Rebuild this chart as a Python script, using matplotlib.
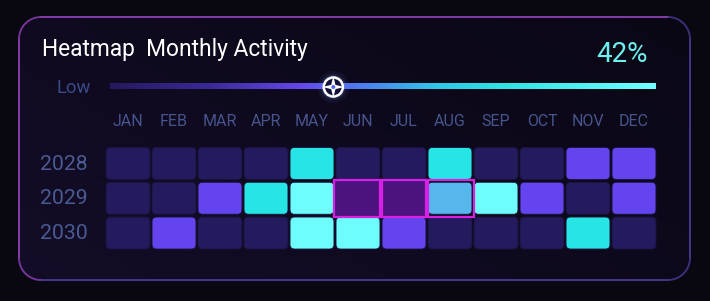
import numpy as np
import matplotlib.pyplot as plt
from matplotlib.patches import FancyBboxPatch, Rectangle, Circle, Polygon
from matplotlib.colors import LinearSegmentedColormap
from matplotlib.collections import LineCollection

plt.rcParams['font.family'] = ['Roboto', 'DejaVu Sans']

# ---------------- data ----------------
title = "Heatmap  Monthly Activity"
percent_label = "42%"
slider_value = 0.42
months = ["JAN", "FEB", "MAR", "APR", "MAY", "JUN", "JUL", "AUG", "SEP", "OCT", "NOV", "DEC"]
years = ["2028", "2029", "2030"]
# activity level per month (0 = low ... 3 = high)
levels_2028 = [0, 0, 0, 0, 2, 0, 0, 2, 0, 0, 1, 1]
levels_2029 = [0, 0, 1, 2, 3, 0, 0, 2, 3, 1, 0, 1]
levels_2030 = [0, 1, 0, 0, 3, 3, 1, 0, 0, 0, 2, 0]
selected_year = "2029"
selected_months = ["JUN", "JUL", "AUG"]

level_colors = {0: '#241a5e', 1: '#6344ee', 2: '#27e5e5', 3: '#6dfdfd'}
selected_colors = {0: '#4c137e', 2: '#57b6eb'}

levels = np.array([levels_2028, levels_2029, levels_2030])

# ---------------- figure / background ----------------
W, H = 710, 301
fig = plt.figure(figsize=(W / 100, H / 100), dpi=100, facecolor='#09070f')
bg = fig.add_axes([0, 0, 1, 1])
bg.set_xlim(0, W)
bg.set_ylim(H, 0)
bg.axis('off')

# card
cx0, cy0, cx1, cy1, rad = 19, 17, 690, 280, 22
card = FancyBboxPatch((cx0, cy0), cx1 - cx0, cy1 - cy0,
                      boxstyle=f"round,pad=0,rounding_size={rad}",
                      facecolor='none', edgecolor='none')
bg.add_patch(card)
gx, gy = np.meshgrid(np.linspace(0, 1, 200), np.linspace(0, 1, 100))
shade = 0.6 * (1 - gx) + 0.4 * gy
card_cmap = LinearSegmentedColormap.from_list('card', ['#0a0715', '#130d27'])
im = bg.imshow(shade, extent=[cx0, cx1, cy1, cy0], cmap=card_cmap,
               aspect='auto', zorder=1)
im.set_clip_path(card)

# card border with a purple gradient
def rounded_outline(x0, y0, x1, y1, r, n=40):
    pts = []
    corners = [(x1 - r, y0 + r, -90, 0), (x1 - r, y1 - r, 0, 90),
               (x0 + r, y1 - r, 90, 180), (x0 + r, y0 + r, 180, 270)]
    for ccx, ccy, a0, a1 in corners:
        a = np.radians(np.linspace(a0, a1, n))
        pts.append(np.column_stack([ccx + r * np.cos(a), ccy + r * np.sin(a)]))
    pts = np.vstack(pts + [pts[0][:1]])
    return pts

outline = rounded_outline(cx0, cy0, cx1, cy1, rad)
segs = np.stack([outline[:-1], outline[1:]], axis=1)
border_cmap = LinearSegmentedColormap.from_list('border', ['#9040b8', '#5a3aa0', '#4a3a94'])
lc = LineCollection(segs, cmap=border_cmap, linewidths=1.3, zorder=3)
lc.set_array((segs[:, 0, 0] - cx0) / (cx1 - cx0))
bg.add_collection(lc)

# ---------------- header ----------------
bg.text(42, 56, title, color='white', fontsize=16.4, va='baseline', ha='left', zorder=5)
bg.text(648, 62, percent_label, color='#6cf0f0', fontsize=20, va='baseline', ha='right', zorder=5)
bg.text(57, 93, "Low", color='#3b4a88', fontsize=13.3, va='baseline', ha='left', zorder=5)

# slider track
sx0, sx1, sy = 110, 656, 86.5
slider_cmap = LinearSegmentedColormap.from_list(
    'slider', [(0, '#26195e'), (0.18, '#3a2a96'), (0.35, '#6548ee'),
               (0.45, '#4f78f2'), (0.6, '#2fc8e6'), (0.72, '#2ee2e2'), (1, '#70ffff')])
bg.imshow(np.linspace(0, 1, 400)[None, :], extent=[sx0, sx1, sy + 2.8, sy - 2.8],
          cmap=slider_cmap, aspect='auto', zorder=4)

# knob
kx = sx0 + slider_value * (sx1 - sx0) - 6
for r, a in [(16, 0.06), (13, 0.1), (11.5, 0.15)]:
    bg.add_patch(Circle((kx, sy + 0.5), r, color='#7a9cff', alpha=a, lw=0, zorder=5))
bg.add_patch(Circle((kx, sy + 0.5), 9.5, facecolor='#14123a', edgecolor='white', lw=1.8, zorder=6))
ang = np.radians(np.arange(0, 360, 45) - 90)
rr = np.where(np.arange(8) % 2 == 0, 11, 3.0)
star = np.column_stack([kx + rr * np.cos(ang), sy + 0.5 + rr * np.sin(ang)])
bg.add_patch(Polygon(star, closed=True, facecolor='white', edgecolor='none', zorder=7))
bg.add_patch(Circle((kx, sy + 0.5), 2.0, color='#4a6cf0', lw=0, zorder=8))

# ---------------- heatmap ----------------
hx0, hx1, hy0, hy1 = 105, 657, 146.1, 250.4
ax = fig.add_axes([hx0 / W, 1 - hy1 / H, (hx1 - hx0) / W, (hy1 - hy0) / H])
ax.set_xlim(-0.5, len(months) - 0.5)
ax.set_ylim(len(years) - 0.5, -0.5)
ax.axis('off')
ax.patch.set_alpha(0)

px_x = (hx1 - hx0) / len(months)
px_y = (hy1 - hy0) / len(years)
cw, ch = 0.955, 0.92
rs = 4.5 / px_x
sel_row = years.index(selected_year)
sel_cols = [months.index(m) for m in selected_months]

for i in range(len(years)):
    for j in range(len(months)):
        lv = levels[i, j]
        selected = (i == sel_row and j in sel_cols)
        color = level_colors[lv]
        if selected and lv == 0:
            ax.add_patch(Rectangle((j - 0.5, i - 0.5), 1, 1, facecolor=selected_colors[0],
                                   edgecolor='none', zorder=2))
            continue
        if selected:
            color = selected_colors.get(lv, color)
        ax.add_patch(FancyBboxPatch((j - cw / 2, i - ch / 2), cw, ch,
                                    boxstyle=f"round,pad=0,rounding_size={rs}",
                                    mutation_aspect=px_x / px_y,
                                    facecolor=color, edgecolor='#1a1440', lw=0.6, zorder=2))

for j in sel_cols:
    ax.add_patch(Rectangle((j - 0.52, sel_row - 0.53), 1.04, 1.06, facecolor='none',
                           edgecolor='#d820e4', lw=1.6, zorder=4))

for j, m in enumerate(months):
    ax.text(j, -1.08, m, color='#46558e', fontsize=11.5, ha='center', va='baseline')
for i, y in enumerate(years):
    ax.text(-0.88, i - 0.04, y, color='#4a5a94', fontsize=15.3, ha='right', va='center_baseline')

fig.savefig('out.png', dpi=100, facecolor=fig.get_facecolor())
